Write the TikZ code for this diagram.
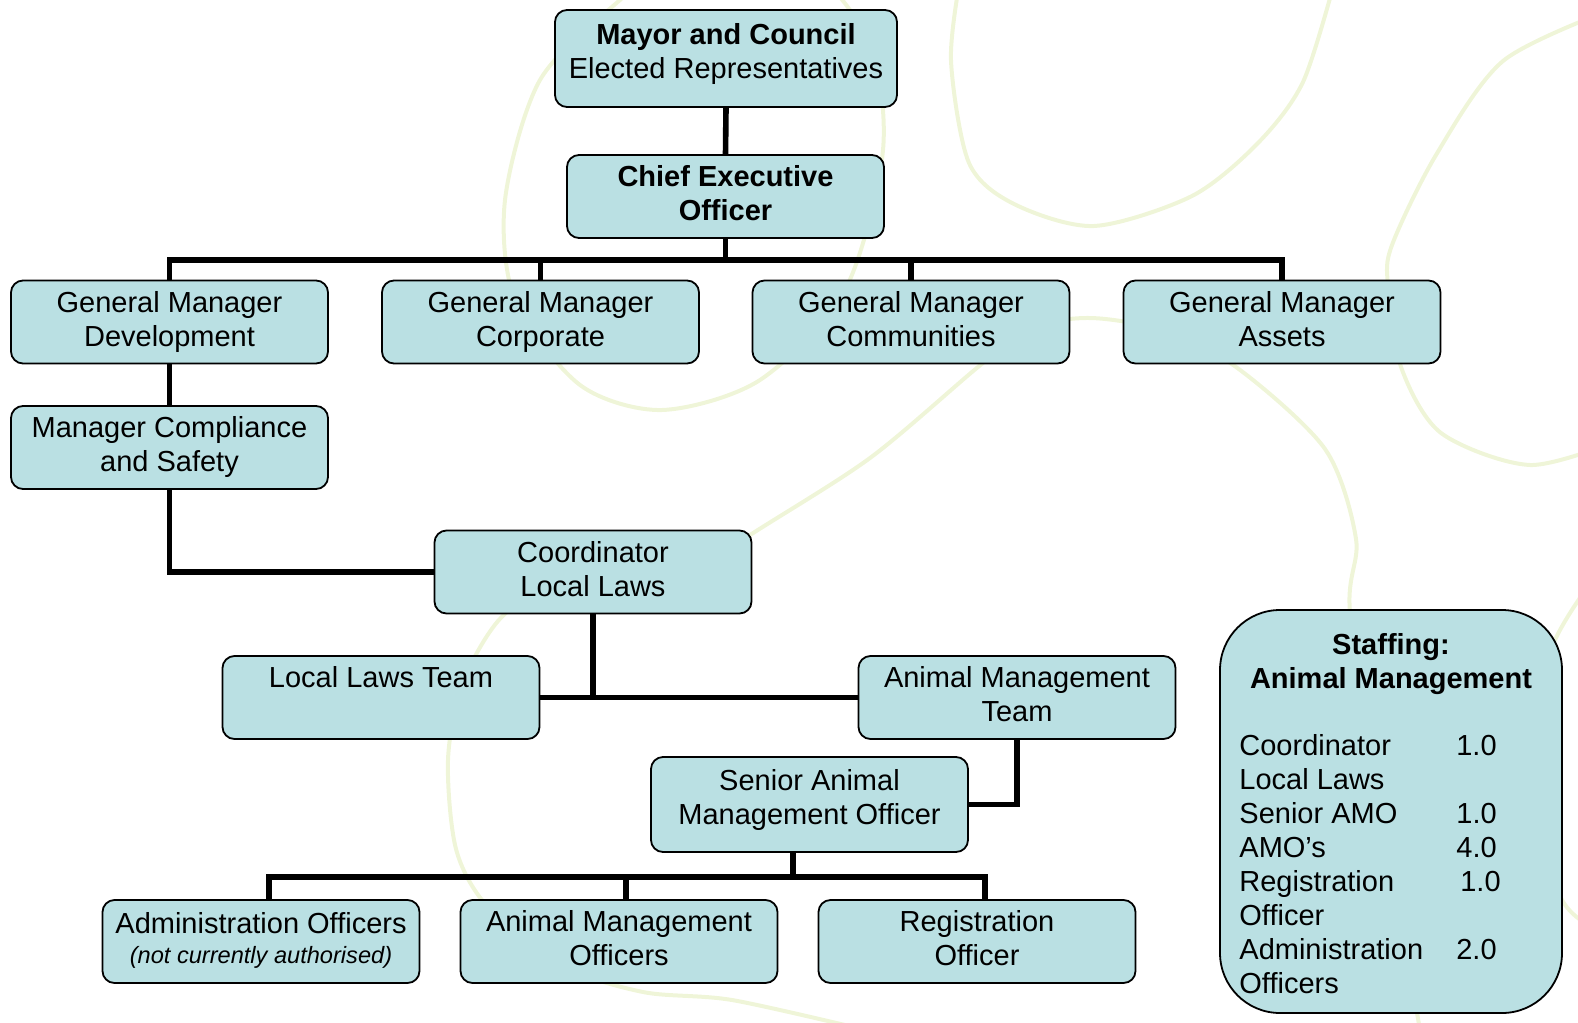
\documentclass[tikz,border=0pt]{standalone}
\usepackage{fontspec}
\setmainfont{Liberation Sans}
\usetikzlibrary{calc}
\definecolor{boxblue}{RGB}{186,224,227}
\definecolor{swirlgreen}{RGB}{239,245,216}
\newcommand\orgfont{\fontsize{14.5}{17}\selectfont}
\tikzset{
	orgbox/.style={rectangle,rounded corners=6pt,draw=black,line width=0.9pt,fill=boxblue,align=center,minimum width=158.5pt,minimum height=41.5pt,inner sep=2pt,text depth=3.2pt,font=\orgfont},
	linkline/.style={line width=2.8pt},
	swirl/.style={draw=swirlgreen,line width=2pt}
}
\begin{document}
\begin{tikzpicture}[x=0.5pt,y=-0.5pt]
		\useasboundingbox (0,0) rectangle (1578,1022);
		\begin{scope}
		\clip (0,0) rectangle (1578,1022);
		\draw[swirl] plot[smooth cycle] coordinates {(620,0) (540,80) (505,200) (515,300) (580,385) (662,410) (760,380) (845,290) (883,150) (868,40) (800,-40) (700,-60)};
		\draw[swirl] plot[smooth] coordinates {(960,-20) (951,61) (969,163) (1014,204) (1094,226) (1192,196) (1258,143) (1303,82) (1335,-20)};
		\draw[swirl] plot[smooth] coordinates {(1610,10) (1503,61) (1436,155) (1392,245) (1388,286) (1401,367) (1441,433) (1530,465) (1620,440)};
		\draw[swirl] plot[smooth] coordinates {(650,600) (750,535) (870,458) (978,367) (1030,328) (1090,318) (1160,330) (1236,367) (1325,449) (1356,539) (1350,612) (1380,800) (1420,1030)};
		\draw[swirl] plot[smooth] coordinates {(1600,570) (1555,640) (1510,770) (1562,900) (1600,930)};
		\draw[swirl] plot[smooth] coordinates {(560,570) (498,621) (462,685) (448,760) (456,849) (487,906) (560,965) (643,992) (732,1000) (866,1030)};
		\end{scope}
		\node[orgbox,minimum width=171pt,minimum height=48.5pt,text depth=8pt] (mayor) at (726,58.5) {\textbf{Mayor and Council}\\Elected Representatives};
		\node[orgbox] (ceo) at (725.5,196.5) {\textbf{Chief Executive}\\\textbf{Officer}};
		\node[orgbox] (gmdev) at (169.5,322) {General Manager\\Development};
		\node[orgbox] (gmcorp) at (540.5,322) {General Manager\\Corporate};
		\node[orgbox] (gmcomm) at (911,322) {General Manager\\Communities};
		\node[orgbox] (gmassets) at (1282,322) {General Manager\\Assets};
		\node[orgbox] (mancomp) at (169.5,447.5) {Manager Compliance\\and Safety};
		\node[orgbox] (coord) at (593,572) {Coordinator\\Local Laws};
		\node[orgbox] (llteam) at (381,697.5) {Local Laws Team\\\phantom{y}};
		\node[orgbox] (amteam) at (1017,697.5) {Animal Management\\Team};
		\node[orgbox,minimum height=47.5pt,text depth=7.5pt] (samo) at (809.5,804.5) {Senior Animal\\Management Officer};
		\node[orgbox] (admin) at (261,941.5) {Administration Officers\\[-2pt]{\fontsize{11.8}{14}\selectfont\itshape (not currently authorised)}};
		\node[orgbox] (amo) at (619,941.5) {Animal Management\\Officers};
		\node[orgbox] (regoff) at (977,941.5) {Registration\\Officer};
		\node[orgbox,minimum width=171pt,minimum height=201.5pt,rounded corners=30pt] (staff) at (1391,811.5) {};
		\node[align=center,inner sep=0pt,font=\orgfont\bfseries] (stafftitle) at (1391,664) {Staffing:\\Animal Management};
		\node[anchor=north west,inner sep=0pt,font=\orgfont] (stafflist) at (1239,731.7) {%
			\begin{tabular}{@{}p{108.5pt}@{}l@{}}
			Coordinator & 1.0\\
			Local Laws & \\
			Senior AMO & 1.0\\
			AMO’s & 4.0\\
			Registration & \hspace{2pt}1.0\\
			Officer & \\
			Administration & 2.0\\
			Officers &
			\end{tabular}};
		\coordinate (gmbus) at (726,260);
		\coordinate (offbus) at (793,877);
		\draw[linkline] (mayor.south) -- (ceo.north);
		\draw[linkline] (ceo.south) -- (ceo.south |- gmbus);
		\draw[linkline] (gmdev.north) |- (gmbus) -| (gmassets.north);
		\draw[linkline] (gmcorp.north) -- (gmcorp.north |- gmbus);
		\draw[linkline] (gmcomm.north) -- (gmcomm.north |- gmbus);
		\draw[linkline] (gmdev) -- (mancomp);
		\draw[linkline] (mancomp.south) |- (coord.west);
		\draw[linkline] (coord.south) -- (coord.south |- llteam.east);
		\draw[linkline] (llteam.east) -- (amteam.west);
		\draw[linkline] (amteam.south) |- (samo.east);
		\draw[linkline] (samo.south -| offbus) -- (offbus);
		\draw[linkline] ([xshift=4pt]admin.north) |- (offbus) -| ([xshift=4pt]regoff.north);
		\draw[linkline] ([xshift=3.5pt]amo.north) -- ([xshift=3.5pt]amo.north |- offbus);
		\end{tikzpicture}
\end{document}
